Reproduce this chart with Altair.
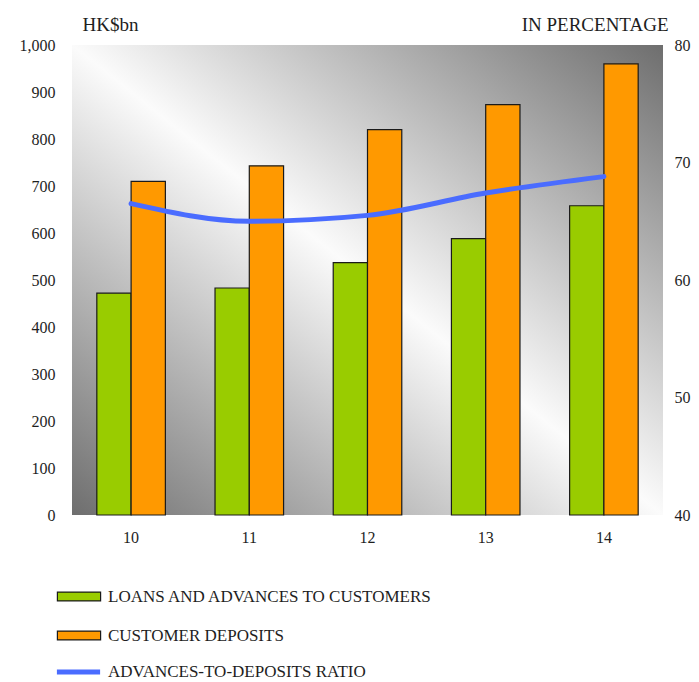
import altair as alt
import pandas as pd

years = ["10", "11", "12", "13", "14"]
loans = [472, 483, 537, 588, 658]
deposits = [710, 743, 820, 873, 960]
ratio = [66.5, 65.0, 65.5, 67.4, 68.8]

series_names = ["LOANS AND ADVANCES TO CUSTOMERS", "CUSTOMER DEPOSITS"]
series_colors = ["#99cc00", "#ff9900"]
line_name = "ADVANCES-TO-DEPOSITS RATIO"
line_color = "#4a6cff"

left_ticks = [0, 100, 200, 300, 400, 500, 600, 700, 800, 900, 1000]
right_ticks = [40, 50, 60, 70, 80]

rows = []
for i, y in enumerate(years):
    rows.append({"year": y, "series": series_names[0], "value": loans[i]})
    rows.append({"year": y, "series": series_names[1], "value": deposits[i]})
bar_df = pd.DataFrame(rows)
line_df = pd.DataFrame({"year": years, "ratio": ratio, "label": [line_name] * len(years)})

FONT = "Liberation Serif"
TXT = "#1e1e1e"
W, H = 591, 470

gradient = {"gradient": "linear", "x1": 0, "y1": 1, "x2": 1, "y2": 0,
            "stops": [{"offset": 0, "color": "#6e6e6e"},
                      {"offset": 0.5, "color": "#fbfbfb"},
                      {"offset": 1, "color": "#6e6e6e"}]}

bg = alt.Chart(pd.DataFrame({"k": [0]})).mark_rect(fill=gradient, strokeWidth=0).encode(
    x=alt.value(0), x2=alt.value(W), y=alt.value(0), y2=alt.value(H)
)

xscale = alt.Scale(domain=years, paddingInner=0.42, paddingOuter=0.21)

legend_common = dict(title=None, orient="none", direction="vertical", padding=0,
                     symbolSize=729, labelFontSize=17, labelFont=FONT, labelColor=TXT,
                     labelLimit=600)

bars = alt.Chart(bar_df).mark_bar(stroke="#1a1a1a", strokeWidth=1.2).encode(
    x=alt.X("year:N", scale=xscale, sort=years,
            axis=alt.Axis(title=None, labelAngle=0, ticks=False, domain=False,
                          labelPadding=14, labelFontSize=16, labelFont=FONT, labelColor=TXT)),
    xOffset=alt.XOffset("series:N", sort=series_names, scale=alt.Scale(paddingInner=0, paddingOuter=0)),
    y=alt.Y("value:Q", scale=alt.Scale(domain=[0, 1000], nice=False),
            axis=alt.Axis(title="HK$bn", values=left_ticks, format=",d", grid=False, ticks=False,
                          domain=False, labelPadding=17, labelFontSize=16, labelFont=FONT,
                          labelColor=TXT, titleAngle=0, titleX=10, titleY=-11,
                          titleAlign="left", titleBaseline="bottom", titleFont=FONT,
                          titleFontSize=19, titleFontWeight="normal", titleColor=TXT)),
    color=alt.Color("series:N", sort=series_names,
                    scale=alt.Scale(domain=series_names, range=series_colors),
                    legend=alt.Legend(legendX=-7.5, legendY=537, rowPadding=16,
                                      symbolType="M-1.6,-0.33H1.6V0.33H-1.6Z",
                                      symbolStrokeColor="#1a1a1a", symbolStrokeWidth=1.2,
                                      labelOffset=14.5, **legend_common)),
)

line = alt.Chart(line_df).mark_line(strokeWidth=5, interpolate="monotone", strokeCap="round").encode(
    x=alt.X("year:N", sort=years),
    y=alt.Y("ratio:Q", scale=alt.Scale(domain=[40, 80], nice=False),
            axis=alt.Axis(title="IN PERCENTAGE", orient="right", values=right_ticks, grid=False,
                          ticks=False, domain=False, labelPadding=11, labelFontSize=16,
                          labelFont=FONT, labelColor=TXT, titleAngle=0, titleX=5, titleY=-11,
                          titleAlign="right", titleBaseline="bottom", titleFont=FONT,
                          titleFontSize=19, titleFontWeight="normal", titleColor=TXT)),
    stroke=alt.Stroke("label:N", scale=alt.Scale(domain=[line_name], range=[line_color]),
                      legend=alt.Legend(legendX=-9.5, legendY=611,
                                        symbolType="M-1.6,0H1.6", symbolStrokeWidth=5,
                                        labelOffset=13.5, **legend_common)),
)

chart = alt.layer(bg, bars, line).resolve_scale(
    y="independent", color="independent", stroke="independent"
).properties(
    width=W, height=H,
    autosize=alt.AutoSizeParams(type="none"),
    padding={"left": 64, "top": 37, "right": 28, "bottom": 170},
    background="white",
).configure_view(stroke=None)

chart.save("out.html", embed_options={"renderer": "svg", "actions": False})
